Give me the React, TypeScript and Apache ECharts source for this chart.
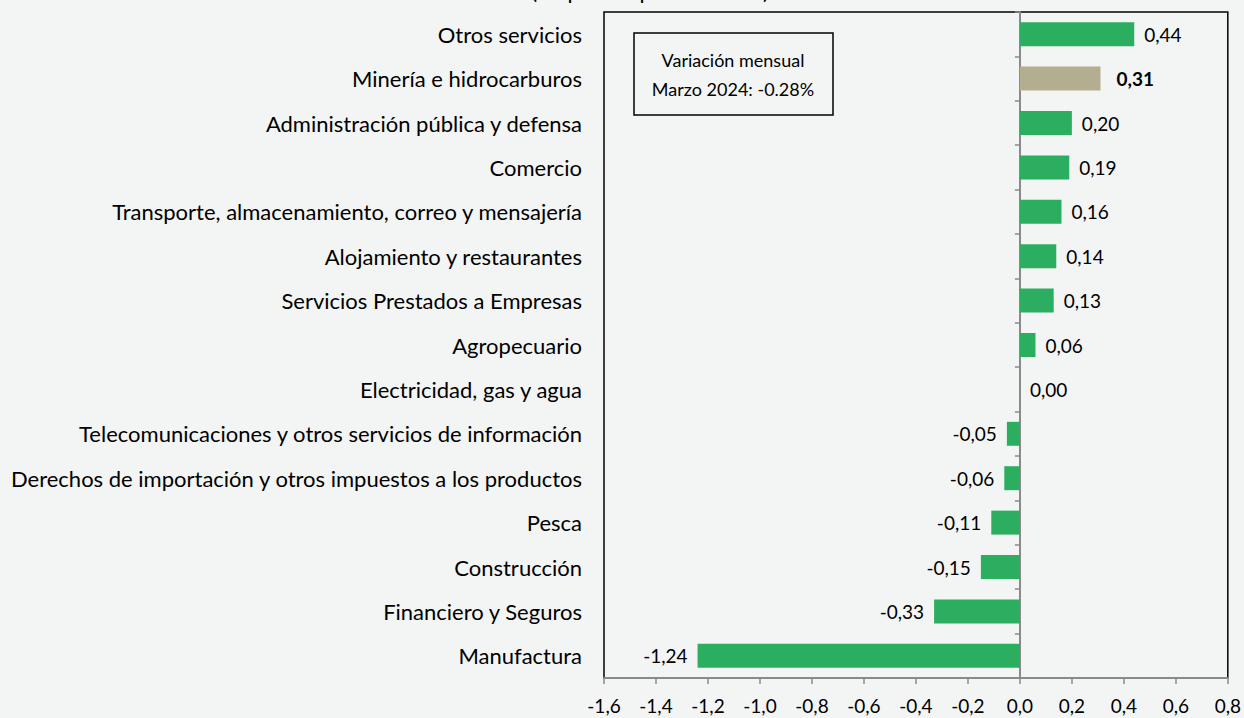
import React, { useEffect, useRef } from "react";
import * as echarts from "echarts";

const categories = [
  "Otros servicios",
  "Minería e hidrocarburos",
  "Administración pública y defensa",
  "Comercio",
  "Transporte, almacenamiento, correo y mensajería",
  "Alojamiento y restaurantes",
  "Servicios Prestados a Empresas",
  "Agropecuario",
  "Electricidad, gas y agua",
  "Telecomunicaciones y otros servicios de información",
  "Derechos de importación y otros impuestos a los productos",
  "Pesca",
  "Construcción",
  "Financiero y Seguros",
  "Manufactura",
];
const values = [0.44, 0.31, 0.2, 0.19, 0.16, 0.14, 0.13, 0.06, 0.0, -0.05, -0.06, -0.11, -0.15, -0.33, -1.24];
const highlighted = "Minería e hidrocarburos";
const titleText = "(En puntos porcentuales)";
const boxLines = ["Variación mensual", "Marzo 2024: -0.28%"];

const FONT = "Lato, 'Open Sans', sans-serif";
const GREEN = "#2bae60";
const TAN = "#b3ae8f";
const BG = "#f3f5f4";
const AXIS_GREY = "#8a8a8a";

export default function App() {
  const ref = useRef<HTMLDivElement>(null);
  useEffect(() => {
    if (!ref.current) return;
    const chart = echarts.init(ref.current, undefined, { renderer: "svg" });
    const data = values.map((v, i) => {
      const hl = categories[i] === highlighted;
      return {
        value: v,
        itemStyle: { color: hl ? TAN : GREEN },
        label: {
          position: v < 0 ? "left" : "right",
          distance: hl ? 16 : 10,
          fontWeight: hl ? "bold" : "normal",
        },
      };
    });
    chart.setOption({
      animation: false,
      backgroundColor: BG,
      textStyle: { fontFamily: FONT },
      graphic: [
        {
          type: "text",
          x: 650,
          y: 1,
          style: {
            text: titleText,
            fontSize: 22,
            fontFamily: FONT,
            fill: "#000",
            align: "center",
            verticalAlign: "bottom",
          },
        },
        {
          type: "rect",
          shape: { x: 634, y: 33, width: 199, height: 82 },
          style: { fill: BG, stroke: "#000", lineWidth: 1.5 },
          z: 10,
        },
        {
          type: "text",
          x: 733,
          y: 74,
          z: 11,
          style: {
            text: boxLines.join("\n"),
            fontSize: 18,
            lineHeight: 29,
            fontFamily: FONT,
            fill: "#000",
            align: "center",
            verticalAlign: "middle",
          },
        },
      ],
      grid: {
        left: 604,
        right: 15,
        top: 12,
        bottom: 40,
        show: true,
        borderColor: "#000",
        borderWidth: 1.5,
        backgroundColor: "transparent",
      },
      xAxis: {
        type: "value",
        min: -1.6,
        max: 0.8,
        interval: 0.2,
        splitLine: { show: false },
        axisLine: { show: true, lineStyle: { color: AXIS_GREY, width: 2 } },
        axisTick: { show: true, length: 6, lineStyle: { color: AXIS_GREY, width: 1.5 } },
        axisLabel: {
          fontSize: 19,
          color: "#000",
          fontFamily: FONT,
          margin: 18,
          formatter: (v: number) => v.toFixed(1).replace(".", ",").replace("-0,0", "0,0"),
        },
      },
      yAxis: [
        {
          type: "category",
          data: categories,
          inverse: true,
          position: "left",
          axisLine: { show: false, onZero: false },
          axisTick: { show: false },
          axisLabel: { fontSize: 22, color: "#000", fontFamily: FONT, margin: 22 },
        },
        {
          type: "category",
          data: categories,
          inverse: true,
          position: "left",
          axisLine: { show: true, onZero: true, lineStyle: { color: AXIS_GREY, width: 2 } },
          axisTick: { show: true, length: 5, lineStyle: { color: AXIS_GREY, width: 1.5 } },
          axisLabel: { show: false },
        },
      ],
      series: [
        {
          type: "bar",
          yAxisIndex: 0,
          data,
          barWidth: "54%",
          label: {
            show: true,
            fontSize: 19,
            color: "#000",
            fontFamily: FONT,
            formatter: (p: any) => Number(p.value).toFixed(2).replace(".", ","),
          },
        },
      ],
    });
    return () => chart.dispose();
  }, []);
  return (
    <div
      ref={ref}
      style={{ position: "fixed", left: 0, top: 0, width: 1244, height: 718 }}
    />
  );
}
